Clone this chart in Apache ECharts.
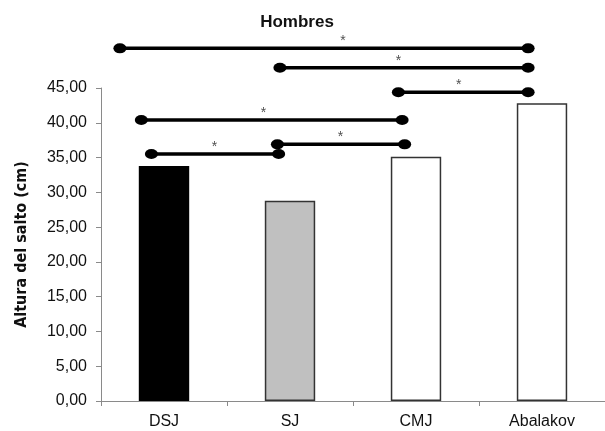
<!DOCTYPE html>
<html><head><meta charset="utf-8">
<script src="https://cdn.jsdelivr.net/npm/echarts@6/dist/echarts.min.js"></script>
<style>html,body{margin:0;padding:0;background:#fff}#c{width:605px;height:431px}</style>
</head><body><div id="c"></div>
<script>
const categories = ['DSJ', 'SJ', 'CMJ', 'Abalakov'];
const values = [33.8, 28.8, 35.1, 42.8];
const barColors = ['#000000', '#c0c0c0', '#ffffff', '#ffffff'];
const yTicks = [0, 5, 10, 15, 20, 25, 30, 35, 40, 45];
// significance brackets, x in category units (0..4), y in cm
const sigStart = [0.15, 1.42, 2.36, 0.32, 0.40, 1.40];
const sigEnd   = [3.39, 3.39, 3.39, 2.39, 1.41, 2.41];
const sigLevel = [50.7, 47.9, 44.4, 40.4, 35.5, 36.9];
const starX    = [1.92, 2.36, 2.84, 1.29, 0.90, 1.90];

const chart = echarts.init(document.getElementById('c'));
const series = [{
  type: 'bar',
  xAxisIndex: 0, yAxisIndex: 0,
  barWidth: '40%',
  data: values.map((v, i) => ({
    value: v,
    itemStyle: { color: barColors[i], borderColor: '#333', borderWidth: i === 0 ? 0 : 1.5 }
  }))
}];
sigStart.forEach((s, i) => {
  series.push({
    type: 'line',
    xAxisIndex: 1, yAxisIndex: 0,
    clip: false,
    symbol: 'circle',
    symbolSize: [13, 10],
    itemStyle: { color: '#000' },
    lineStyle: { color: '#000', width: 3.5 },
    data: [[s, sigLevel[i]], [sigEnd[i], sigLevel[i]]],
    silent: true,
    animation: false
  });
});
series.push({
  type: 'scatter',
  xAxisIndex: 1, yAxisIndex: 0,
  clip: false,
  symbolSize: 0,
  data: starX.map((x, i) => [x, sigLevel[i]]),
  label: { show: true, position: 'top', distance: 0, formatter: '*', fontSize: 14, color: '#222', fontFamily: 'Liberation Sans' },
  animation: false
});

chart.setOption({
  animation: false,
  title: {
    text: 'Hombres', left: 292, top: 9, textAlign: 'center',
    textStyle: { fontFamily: 'Liberation Sans', fontWeight: 'bold', fontSize: 17, color: '#111' }
  },
  grid: { left: 101, right: -6, top: 88, bottom: 30 },
  xAxis: [{
    type: 'category', data: categories,
    axisLine: { lineStyle: { color: '#8a8a8a', width: 1 } },
    axisTick: { show: true, length: 5, lineStyle: { color: '#8a8a8a' } },
    axisLabel: { margin: 13, fontSize: 16, color: '#111', fontFamily: 'Liberation Sans' }
  }, {
    type: 'value', min: 0, max: 4, show: false
  }],
  yAxis: {
    type: 'value', min: 0, max: 45, interval: 5,
    name: 'Altura del salto (cm)', nameLocation: 'middle', nameGap: 71,
    nameTextStyle: { fontFamily: '"DejaVu Sans Condensed", "Liberation Sans"', fontWeight: 'bold', fontSize: 16, color: '#111' },
    splitLine: { show: false },
    axisLine: { show: true, lineStyle: { color: '#8a8a8a', width: 1 } },
    axisTick: { show: true, length: 5, lineStyle: { color: '#8a8a8a' } },
    axisLabel: {
      margin: 14, fontSize: 16, color: '#111', fontFamily: 'Liberation Sans',
      formatter: v => yTicks.includes(v) ? v.toFixed(2).replace('.', ',') : ''
    }
  },
  series: series
});
</script></body></html>
